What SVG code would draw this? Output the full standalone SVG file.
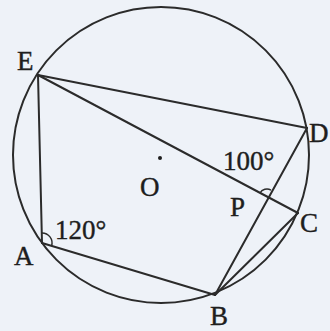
<svg xmlns="http://www.w3.org/2000/svg" width="330" height="331" viewBox="0 0 330 331">
<style>
.ln{stroke:#2b2b2b;stroke-width:2;fill:none;stroke-linecap:round}
.arc{stroke:#2b2b2b;stroke-width:1.4;fill:none}
.lb{font-family:"Liberation Serif","Times New Roman",serif;font-size:27px;fill:#1e1e1e;stroke:#1e1e1e;stroke-width:0.4}
</style>
<rect width="330" height="331" fill="#eef2f8"/>
<g id="circle"><circle class="ln" cx="161" cy="155" r="148"/></g>
<g id="connectors">
<line class="ln" x1="38" y1="75" x2="42" y2="243"/>
<line class="ln" x1="38" y1="75" x2="307" y2="128"/>
<line class="ln" x1="38" y1="75" x2="298" y2="213"/>
<line class="ln" x1="42" y1="243" x2="215" y2="295"/>
<line class="ln" x1="215" y1="295" x2="307" y2="128"/>
<line class="ln" x1="215" y1="295" x2="298" y2="213"/>
<path class="arc" d="M41.8,233 A10,10 0 0 1 51.6,245.9"/>
<path class="arc" d="M259.9,193.2 A8,8 0 0 1 271,190.1"/>
</g>
<g id="E"><text class="lb" x="17" y="70">E</text></g>
<g id="D"><text class="lb" x="309" y="142">D</text></g>
<g id="C"><text class="lb" x="300" y="232">C</text></g>
<g id="P"><text class="lb" x="230" y="216">P</text></g>
<g id="B"><text class="lb" x="210" y="325">B</text></g>
<g id="A"><text class="lb" x="14" y="265">A</text></g>
<g id="O"><circle cx="160" cy="158" r="2" fill="#1e1e1e"/><text class="lb" x="140" y="196">O</text></g>
<g id="angle100"><text class="lb" x="223" y="170">100°</text></g>
<g id="angle120"><text class="lb" x="55" y="239">120°</text></g>
</svg>
